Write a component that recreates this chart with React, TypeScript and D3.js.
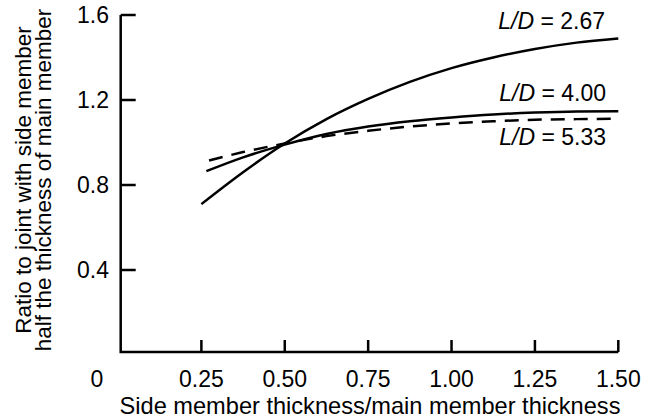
import React from "react";
import * as d3 from "d3";

const xTicks = [0.25, 0.5, 0.75, 1.0, 1.25, 1.5];
const xTickLabels = ["0.25", "0.50", "0.75", "1.00", "1.25", "1.50"];
const yTicks = [0.4, 0.8, 1.2, 1.6];
const yTickLabels = ["0.4", "0.8", "1.2", "1.6"];

const xs267 = [0.25, 0.375, 0.5, 0.625, 0.75, 0.875, 1.0, 1.125, 1.25, 1.375, 1.5];
const ys267 = [0.71, 0.86, 0.995, 1.11, 1.205, 1.285, 1.35, 1.40, 1.44, 1.47, 1.49];
const xs400 = [0.265, 0.375, 0.5, 0.625, 0.75, 0.875, 1.0, 1.125, 1.25, 1.375, 1.5];
const ys400 = [0.865, 0.93, 0.99, 1.04, 1.075, 1.10, 1.118, 1.132, 1.141, 1.146, 1.147];
const xs533 = [0.273, 0.375, 0.5, 0.625, 0.75, 0.875, 1.0, 1.125, 1.25, 1.375, 1.5];
const ys533 = [0.915, 0.955, 0.995, 1.03, 1.055, 1.075, 1.09, 1.10, 1.107, 1.11, 1.112];

const series = [
  { label: "2.67", xs: xs267, ys: ys267, dashed: false },
  { label: "4.00", xs: xs400, ys: ys400, dashed: false },
  { label: "5.33", xs: xs533, ys: ys533, dashed: true },
];

export default function App() {
  const W = 651, H = 418;
  const x = d3.scaleLinear().domain([0, 1.5]).range([118, 618.3]);
  const y = d3.scaleLinear().domain([0, 1.6]).range([355, 15]);
  const axisX = 120.7;
  const axisY = 352;
  const font = "Arial, 'Liberation Sans', Helvetica, sans-serif";
  const fs = 23;
  const line = d3
    .line<[number, number]>()
    .x((d) => x(d[0]))
    .y((d) => y(d[1]))
    .curve(d3.curveMonotoneX);

  const labelPos = [
    { x: 605, y: 29 },
    { x: 606, y: 101 },
    { x: 606, y: 145 },
  ];

  return (
    <svg width={W} height={H} style={{ position: "absolute", left: 0, top: 0 }} fontFamily={font}>
      <rect width={W} height={H} fill="white" />
      <path
        d={`M${axisX},${y(1.6)}V${axisY}H${x(1.5)}`}
        fill="none"
        stroke="black"
        strokeWidth={2.5}
      />
      {yTicks.map((t, i) => (
        <g key={"yt" + i}>
          <line x1={axisX} x2={axisX + 15} y1={y(t)} y2={y(t)} stroke="black" strokeWidth={2.5} />
          <text x={109} y={y(t)} dy="0.36em" textAnchor="end" fontSize={fs}>
            {yTickLabels[i]}
          </text>
        </g>
      ))}
      {xTicks.map((t, i) => (
        <g key={"xt" + i}>
          <line x1={x(t)} x2={x(t)} y1={axisY} y2={axisY - 12} stroke="black" strokeWidth={2.5} />
          <text x={x(t)} y={387} textAnchor="middle" fontSize={fs}>
            {xTickLabels[i]}
          </text>
        </g>
      ))}
      <text x={97} y={387} textAnchor="middle" fontSize={fs}>0</text>
      <text x={370} y={414} textAnchor="middle" fontSize={23.6}>
        Side member thickness/main member thickness
      </text>
      <g transform="translate(0,180) rotate(-90)">
        <text x={0} y={31} textAnchor="middle" fontSize={22.5}>
          Ratio to joint with side member
        </text>
        <text x={0} y={51} textAnchor="middle" fontSize={22.5}>
          half the thickness of main member
        </text>
      </g>
      {series.map((s, i) => (
        <g key={"s" + i}>
          <path
            d={line(s.xs.map((v, j) => [v, s.ys[j]] as [number, number])) || ""}
            fill="none"
            stroke="black"
            strokeWidth={2.5}
            strokeDasharray={s.dashed ? "14,9" : undefined}
          />
          <text x={labelPos[i].x} y={labelPos[i].y} textAnchor="end" fontSize={fs}>
            <tspan fontStyle="italic">L/D</tspan>
            <tspan> = {s.label}</tspan>
          </text>
        </g>
      ))}
    </svg>
  );
}
